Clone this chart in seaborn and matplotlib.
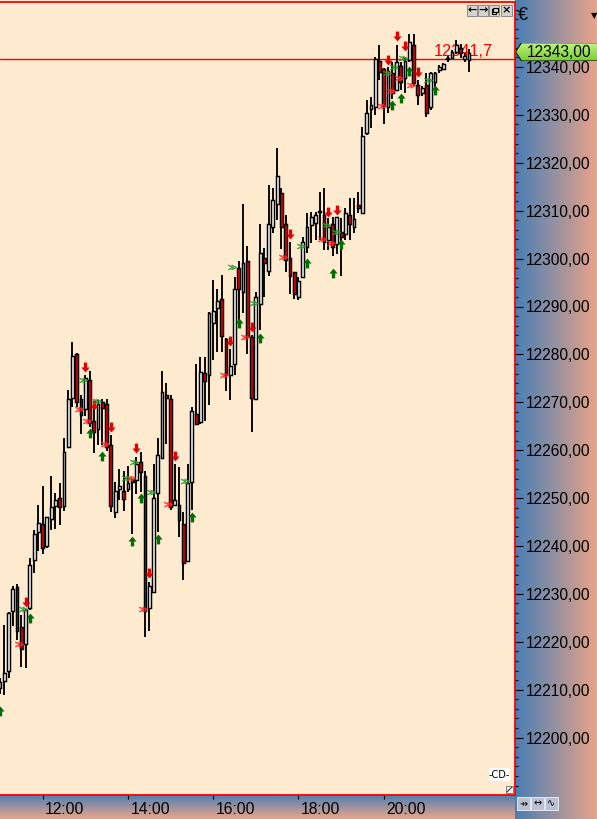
import numpy as np
import pandas as pd
import matplotlib
matplotlib.use("Agg")
import matplotlib.pyplot as plt
import seaborn as sns
from matplotlib.path import Path
from matplotlib.patches import Polygon, Rectangle
import matplotlib.transforms as mtransforms

# ---------------- data (6-minute bars from 11:00) ----------------
opens = [12210.4, 12211.8, 12213.9, 12226.4, 12231.4, 12223.1, 12219.5, 12227.1, 12237.1, 12243.0,
         12244.5, 12239.9, 12245.6, 12248.4, 12250.0, 12248.4, 12260.6, 12271.0, 12280.0, 12270.6,
         12268.5, 12274.7, 12266.1, 12264.5, 12270.0, 12269.6, 12261.1, 12247.0, 12252.0, 12251.4,
         12251.9, 12253.9, 12253.8, 12257.5, 12254.6, 12227.0, 12230.5, 12251.0, 12258.4, 12271.5,
         12270.6, 12248.5, 12248.6, 12244.5, 12236.9, 12253.4, 12267.6, 12265.9, 12276.1, 12275.6,
         12286.5, 12289.6, 12291.5, 12283.2, 12275.6, 12278.1, 12298.0, 12293.0, 12299.6, 12283.6,
         12270.6, 12290.5, 12300.1, 12297.5, 12306.5, 12311.5, 12313.6, 12307.2, 12300.1, 12297.1,
         12292.0, 12296.1, 12302.5, 12307.0, 12307.5, 12309.7, 12309.1, 12303.9, 12307.2, 12303.0,
         12305.5, 12305.1, 12309.1, 12306.5, 12311.2, 12309.6, 12326.2, 12331.2, 12331.6, 12341.3,
         12339.5, 12331.6, 12338.8, 12335.1, 12340.2, 12337.6, 12341.5, 12344.6, 12336.2, 12334.5,
         12336.2, 12331.6, 12336.9, 12339.4, 12339.5, 12341.6, 12341.8, 12343.2, 12343.9, 12341.6,
         12341.5]
highs = [12212.5, 12223.5, 12226.3, 12231.6, 12232.1, 12225.6, 12226.8, 12237.5, 12243.3, 12248.6,
         12252.5, 12246.1, 12254.6, 12251.0, 12253.1, 12262.6, 12272.6, 12282.5, 12280.2, 12271.5,
         12275.7, 12276.5, 12269.1, 12270.5, 12270.7, 12270.7, 12263.2, 12253.4, 12256.0, 12255.7,
         12256.6, 12254.0, 12258.5, 12259.6, 12255.7, 12232.4, 12257.1, 12262.6, 12276.5, 12274.0,
         12271.5, 12257.1, 12256.4, 12247.2, 12257.1, 12269.0, 12278.1, 12279.5, 12279.5, 12288.8,
         12295.5, 12293.6, 12296.6, 12283.4, 12281.1, 12296.1, 12299.6, 12311.5, 12302.6, 12284.0,
         12293.0, 12307.2, 12302.2, 12315.4, 12314.7, 12323.0, 12314.7, 12309.1, 12303.5, 12297.3,
         12296.2, 12304.6, 12309.6, 12309.8, 12309.8, 12313.8, 12314.7, 12308.4, 12308.7, 12308.7,
         12308.4, 12310.5, 12312.6, 12312.6, 12314.0, 12327.5, 12333.1, 12333.7, 12342.0, 12344.6,
         12339.7, 12340.1, 12341.1, 12344.6, 12341.1, 12341.9, 12346.9, 12346.9, 12337.3, 12336.0,
         12338.7, 12338.9, 12339.0, 12340.4, 12340.8, 12342.2, 12343.6, 12345.6, 12344.9, 12343.0,
         12343.7]
lows = [12209.0, 12208.9, 12212.4, 12223.3, 12220.4, 12214.7, 12214.5, 12226.6, 12234.4, 12239.0,
        12238.3, 12239.5, 12243.3, 12243.5, 12244.4, 12247.4, 12260.4, 12269.0, 12269.0, 12263.4,
        12267.1, 12264.9, 12259.5, 12261.1, 12261.1, 12259.9, 12247.0, 12245.9, 12249.5, 12247.4,
        12251.3, 12242.5, 12250.9, 12251.2, 12220.9, 12222.3, 12230.4, 12243.0, 12258.3, 12261.3,
        12247.5, 12248.4, 12241.9, 12232.9, 12236.8, 12247.5, 12265.4, 12265.4, 12266.0, 12269.4,
        12278.8, 12280.6, 12280.6, 12272.4, 12270.5, 12275.6, 12287.2, 12288.6, 12280.0, 12263.9,
        12270.5, 12285.1, 12292.0, 12296.4, 12305.4, 12308.1, 12301.9, 12297.1, 12292.6, 12291.5,
        12291.4, 12296.0, 12301.1, 12303.2, 12303.9, 12303.9, 12301.8, 12301.8, 12300.5, 12301.0,
        12296.4, 12303.9, 12303.9, 12305.3, 12309.6, 12309.5, 12325.8, 12327.2, 12330.0, 12337.3,
        12328.1, 12330.5, 12333.3, 12335.0, 12335.2, 12334.6, 12341.0, 12336.0, 12332.1, 12334.0,
        12329.6, 12331.0, 12335.9, 12338.7, 12339.4, 12341.1, 12341.6, 12342.8, 12341.8, 12341.0,
        12339.0]
closes = [12211.6, 12213.5, 12226.0, 12231.0, 12222.3, 12218.5, 12226.6, 12236.0, 12242.5, 12244.9,
          12239.5, 12246.0, 12248.1, 12249.6, 12248.1, 12259.6, 12270.6, 12279.7, 12270.0, 12267.4,
          12275.0, 12265.6, 12263.9, 12269.6, 12268.9, 12260.6, 12248.4, 12251.4, 12252.5, 12249.9,
          12253.1, 12253.4, 12257.1, 12255.5, 12226.5, 12231.6, 12250.0, 12259.0, 12272.1, 12271.0,
          12248.1, 12249.5, 12245.4, 12236.5, 12253.1, 12268.2, 12265.5, 12276.4, 12274.5, 12288.6,
          12289.1, 12291.1, 12283.9, 12275.9, 12277.6, 12293.6, 12293.6, 12299.0, 12283.9, 12271.0,
          12292.0, 12301.1, 12299.0, 12307.2, 12312.2, 12317.2, 12306.5, 12299.7, 12296.4, 12292.6,
          12295.4, 12303.5, 12306.5, 12308.7, 12309.1, 12309.8, 12303.5, 12306.5, 12302.5, 12308.6,
          12304.6, 12309.6, 12307.2, 12308.2, 12310.5, 12325.6, 12330.5, 12332.1, 12341.6, 12339.0,
          12331.9, 12339.2, 12334.6, 12341.0, 12336.9, 12341.3, 12345.2, 12336.6, 12334.2, 12335.6,
          12330.5, 12338.7, 12338.7, 12340.1, 12340.6, 12341.8, 12343.2, 12344.6, 12342.9, 12342.2,
          12343.0]

time_labels = ["12:00", "14:00", "16:00", "18:00", "20:00"]
time_label_bars = [10, 30, 50, 70, 90]

red_arrow_bar = [6, 20, 22, 26, 32, 35, 41, 54, 59, 68, 77, 79, 91, 93, 95, 98]
red_arrow_price = [12228.3, 12277.4, 12269.4, 12264.8, 12260.5, 12234.4, 12258.8, 12282.7,
                   12285.8, 12305.2, 12309.7, 12310.1, 12341.5, 12346.5, 12344.3, 12339.0]
green_arrow_bar = [0, 7, 21, 24, 31, 33, 37, 45, 56, 61, 72, 78, 80, 92, 94, 96, 102]
green_arrow_price = [12205.5, 12224.9, 12263.6, 12258.8, 12241.0, 12250.0, 12241.4, 12246.1,
                     12286.5, 12283.5, 12299.0, 12296.9, 12303.0, 12332.1, 12333.5, 12339.1, 12335.1]
red_chev_pos = [4.53, 18.6, 20.5, 24.55, 30.65, 33.6, 39.5, 52.5, 57.5, 66.45, 75.6, 77.55,
                89.65, 91.6, 93.65, 96.4]
red_chev_price = [12219.6, 12268.5, 12266.0, 12261.3, 12254.1, 12226.9, 12248.8, 12275.7,
                  12283.6, 12300.3, 12304.1, 12303.2, 12331.8, 12335.0, 12337.6, 12336.2]
green_chev_pos = [5.46, 19.55, 22.7, 29.55, 31.35, 35.35, 43.45, 54.5, 59.55, 70.6, 76.45,
                  78.7, 90.7, 92.45, 94.6, 100.45]
green_chev_price = [12226.9, 12274.7, 12270.2, 12254.1, 12257.6, 12251.2, 12253.6, 12298.2,
                    12290.7, 12302.7, 12307.1, 12305.5, 12338.7, 12340.1, 12341.9, 12337.2]

line_price = 12341.73
line_label = "12341,7"
last_price = 12343.00
currency = "\u20ac"

# ---------------- styling ----------------
sns.set_theme(style="white")
plt.rcParams["font.family"] = ["Liberation Sans", "DejaVu Sans"]

W, H = 597, 819
BAR_PX = 4.264
PLOT_R = 514.5
PLOT_T, PLOT_B = 2, 795
cream = "#fdeacf"
blue = np.array([72, 126, 180]) / 255
salmon = np.array([236, 164, 138]) / 255

fig = plt.figure(figsize=(W / 100, H / 100), dpi=100)
fig.patch.set_facecolor(cream)


def fx(px):
    return px / W


def fy(py):
    return 1 - py / H


# gradient panels
t = np.linspace(0, 1, 256)
img_h = (blue[None, :] * (1 - t[:, None]) + salmon[None, :] * t[:, None])[None, :, :]
img_v = (blue[None, :] * (1 - t[:, None]) + salmon[None, :] * t[:, None])[:, None, :]

rax = fig.add_axes([fx(PLOT_R), 0, 1 - fx(PLOT_R), 1])
rax.imshow(img_h, aspect="auto", extent=[0, 1, 0, 1])
rax.axis("off")
bax = fig.add_axes([0, 0, fx(PLOT_R), fy(PLOT_B)])
bax.imshow(img_v, aspect="auto", extent=[0, 1, 0, 1])
bax.axis("off")

# main axes
ax = fig.add_axes([0, fy(PLOT_B), fx(PLOT_R), fy(PLOT_T) - fy(PLOT_B)])
ax.set_facecolor(cream)
ymax = 12340 + (67 - PLOT_T) / 4.79
ymin = 12340 - (PLOT_B - 67) / 4.79
ax.set_xlim(0, PLOT_R / BAR_PX)
ax.set_ylim(ymin, ymax)

df = pd.DataFrame(dict(open=opens, high=highs, low=lows, close=closes))
df["bar"] = np.arange(len(df))
up = df["close"] >= df["open"]
body_bottom = df[["open", "close"]].min(axis=1)
body_h = (df["close"] - df["open"]).abs().clip(lower=0.25)

ax.vlines(df["bar"], df["low"], df["high"], color="black", lw=1.35, zorder=3)
ax.bar(df["bar"], body_h, bottom=body_bottom, width=0.66,
       color=np.where(up, "white", "#f00000"), edgecolor="black", linewidth=1.05, zorder=4)

# signal arrows
down_path = Path([(-0.17, 0.5), (0.17, 0.5), (0.17, 0.0), (0.42, 0.0), (0, -0.5),
                  (-0.42, 0.0), (-0.17, 0.0), (-0.17, 0.5)],
                 [Path.MOVETO] + [Path.LINETO] * 6 + [Path.CLOSEPOLY])
up_path = Path([(x, -y) for x, y in down_path.vertices], down_path.codes)

sns.scatterplot(x=red_arrow_bar, y=red_arrow_price, marker=down_path, s=50,
                color="#e00000", linewidth=0, ax=ax, zorder=5, legend=False)
sns.scatterplot(x=green_arrow_bar, y=green_arrow_price, marker=up_path, s=50,
                color="#006e00", linewidth=0, ax=ax, zorder=5, legend=False)
sns.scatterplot(x=red_chev_pos, y=red_chev_price, marker="$\\gg$", s=34,
                color="#ff2a2a", edgecolor="#ff2a2a", linewidth=0.3, ax=ax, zorder=5, legend=False)
sns.scatterplot(x=green_chev_pos, y=green_chev_price, marker="$\\gg$", s=34,
                color="#2e9a2e", edgecolor="#2e9a2e", linewidth=0.3, ax=ax, zorder=5, legend=False)

# price line and label
ax.axhline(line_price, color="red", lw=1.0, zorder=2)
ax.text(434 / BAR_PX, 12340 + (67 - 55.5) / 4.79, line_label, color="red",
        fontsize=11.8, ha="left", va="baseline", zorder=2)

# axes ticks
ax.yaxis.tick_right()
ax.set_yticks(np.arange(12200, 12341, 10))
ax.set_yticks(np.arange(12190, 12354, 2), minor=True)
ax.yaxis.set_major_formatter(lambda v, p: f"{v:.2f}".replace(".", ","))
ax.tick_params(axis="y", which="major", right=True, left=False, length=5.5, width=0.8,
               pad=2.5, labelsize=11.2, colors="black", direction="out")
ax.tick_params(axis="y", which="minor", right=True, left=False, length=2.0, width=0.8,
               colors="black", direction="out")
ax.set_xticks(time_label_bars)
ax.set_xticklabels(time_labels)
ax.tick_params(axis="x", which="major", bottom=True, length=3.0, width=0.8, pad=2.0,
               labelsize=11.3, colors="black", direction="out")
offset = mtransforms.ScaledTranslation(2.5 / 100, 0, fig.dpi_scale_trans)
for lab in ax.get_xticklabels():
    lab.set_ha("left")
    lab.set_transform(lab.get_transform() + offset)
for name, sp in ax.spines.items():
    sp.set_color("red")
    sp.set_linewidth(1.3)
    sp.set_visible(name != "left")
ax.grid(False)

# last price label (green, arrow-shaped)
lx0, lx1, ly0, ly1 = 515.5, 597.0, 42.7, 61.0
la = fig.add_axes([fx(lx0), fy(ly1), fx(lx1) - fx(lx0), fy(ly0) - fy(ly1)])
g_top = np.array([196, 246, 128]) / 255
g_bot = np.array([118, 206, 52]) / 255
tg = np.linspace(0, 1, 64)
img_g = (g_top[None, :] * (1 - tg[:, None]) + g_bot[None, :] * tg[:, None])[:, None, :]
im = la.imshow(img_g, aspect="auto", extent=[0, 1, 0, 1])
wpx, hpx = lx1 - lx0, ly1 - ly0
poly = Polygon([(0, 0.5), (6 / wpx, 1), (1.02, 1), (1.02, 0), (6 / wpx, 0)], closed=True,
               transform=la.transAxes, facecolor="none", edgecolor="#1a1a1a", lw=0.9)
la.add_patch(poly)
im.set_clip_path(poly)
la.text((526.7 - lx0) / wpx, 0.45, f"{last_price:.2f}".replace(".", ","), fontsize=11.2,
        ha="left", va="center", color="black", transform=la.transAxes)
la.set_xlim(0, 1)
la.set_ylim(0, 1)
la.axis("off")

# currency sign and small triangle
fig.text(fx(518), fy(15), currency, fontsize=13, ha="left", va="center", color="black")
fig.text(fx(590.5), fy(16), "\u25bc", fontsize=6, ha="left", va="center", color="black",
         family="DejaVu Sans")


def px_rect(x0, y0, x1, y1, fc, ec, lw=0.7, z=4):
    r = Rectangle((fx(x0), fy(y1)), fx(x1) - fx(x0), fy(y0) - fy(y1), transform=fig.transFigure,
                  facecolor=fc, edgecolor=ec, lw=lw, zorder=z)
    fig.add_artist(r)


# window buttons top right
btns = [(467, 477, "\u2190"), (478, 488, "\u2192"), (489, 499, ""), (501, 512, "\u00d7")]
for x0, x1, g in btns:
    px_rect(x0, 5, x1, 16, "#d6d3ce", "#8a8a8a")
    if g:
        fig.text(fx((x0 + x1) / 2), fy(10.5), g, fontsize=8, fontweight="bold", ha="center",
                 va="center", color="black", family="DejaVu Sans", zorder=5)
px_rect(491.5, 9, 496, 13.5, "#d6d3ce", "black", lw=0.8, z=5)
px_rect(493, 7.5, 497.5, 12, "#d6d3ce", "black", lw=0.8, z=5)

# bottom-right icons inside plot
px_rect(489, 768, 510, 781, "white", "none", z=4)
fig.text(fx(499.5), fy(774.5), "-CD-", fontsize=7, ha="center", va="center", color="black",
         family="DejaVu Sans", zorder=5)
px_rect(506, 786, 513, 793, "#f0f0f0", "#808080", z=4)
fig.add_artist(plt.Line2D([fx(507), fx(512)], [fy(792), fy(787)], transform=fig.transFigure,
                          color="#404040", lw=0.8, zorder=5))

# bottom-right scroll buttons
for i, g in enumerate(["\u21f8", "\u2194", "\u223f"]):
    x0 = 517 + i * 14
    px_rect(x0, 797, x0 + 13, 810, "#b9c1d3", "#e6e9f0", z=4)
    fig.text(fx(x0 + 6.5), fy(803.5), g, fontsize=7, ha="center", va="center",
             color="black", family="DejaVu Sans", zorder=5)

fig.savefig("out.png", dpi=100, facecolor=fig.get_facecolor())
